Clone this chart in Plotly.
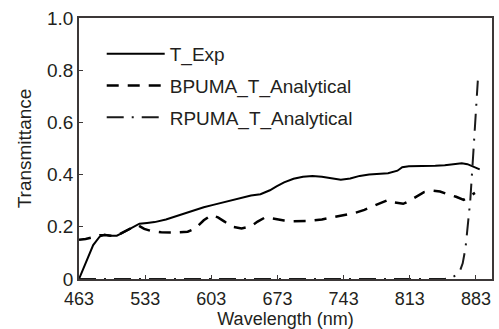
import plotly.graph_objects as go

texp_x = [463, 470, 478, 485, 490, 496, 503, 508, 513, 520, 527, 535, 543, 555, 565, 575, 585, 595,
          605, 615, 625, 635, 645, 655, 665, 672, 680, 690, 700, 710, 720, 730, 740, 750, 760, 770,
          780, 790, 800, 805, 812, 820, 830, 840, 850, 860, 868, 874, 880, 887]
texp_y = [0.0, 0.06, 0.13, 0.163, 0.17, 0.166, 0.166, 0.175, 0.185, 0.2, 0.212, 0.215, 0.218, 0.228,
          0.24, 0.252, 0.264, 0.275, 0.284, 0.293, 0.303, 0.312, 0.32, 0.325, 0.34, 0.355, 0.37, 0.384,
          0.392, 0.395, 0.392, 0.386, 0.38, 0.385, 0.395, 0.4, 0.403, 0.405, 0.415, 0.428, 0.432, 0.432,
          0.433, 0.434, 0.436, 0.44, 0.443, 0.44, 0.432, 0.42]

bpuma_x = [463, 470, 478, 485, 492, 500, 506, 512, 520, 526, 532, 540, 550, 565, 578, 586, 595, 603,
           610, 617, 625, 635, 645, 652, 660, 668, 680, 690, 705, 720, 735, 745, 755, 765, 775, 785,
           790, 797, 806, 812, 820, 828, 838, 845, 853, 862, 870, 876, 882]
bpuma_y = [0.15, 0.153, 0.16, 0.168, 0.168, 0.165, 0.172, 0.183, 0.198, 0.205, 0.192, 0.183, 0.179,
           0.178, 0.181, 0.193, 0.225, 0.245, 0.236, 0.22, 0.2, 0.194, 0.202, 0.22, 0.236, 0.232, 0.224,
           0.221, 0.222, 0.228, 0.238, 0.245, 0.253, 0.265, 0.28, 0.298, 0.303, 0.293, 0.288, 0.298,
           0.316, 0.333, 0.338, 0.335, 0.325, 0.315, 0.303, 0.318, 0.33]

rpuma_x = [463, 850, 856, 862, 866, 869, 872, 875, 877, 880, 883, 885]
rpuma_y = [0.0, 0.0, 0.003, 0.015, 0.03, 0.06, 0.12, 0.22, 0.3, 0.47, 0.64, 0.76]

x_ticks = [463, 533, 603, 673, 743, 813, 883]
y_ticks = [0, 0.2, 0.4, 0.6, 0.8, 1.0]
y_tick_text = ["0", "0.2", "0.4", "0.6", "0.8", "1.0"]

FONT = "Liberation Sans, Arial, sans-serif"
AX = "#3c3838"
FS = 19
FT = 19

fig = go.Figure()
fig.add_trace(go.Scatter(x=texp_x, y=texp_y, mode="lines", name="T_Exp",
                         line=dict(color="#000000", width=2), legendgroup="a"))
fig.add_trace(go.Scatter(x=bpuma_x, y=bpuma_y, mode="lines", name="BPUMA_T_Analytical",
                         line=dict(color="#000000", width=2.5, dash="12px,9px"), legendgroup="b"))
fig.add_trace(go.Scatter(x=rpuma_x, y=rpuma_y, mode="lines", name="RPUMA_T_Analytical",
                         line=dict(color="#1a1a1a", width=2, dash="17px,8px,2px,8px"), legendgroup="c"))

fig.update_layout(
    width=499, height=329,
    margin=dict(l=79, r=5, t=18, b=50),
    paper_bgcolor="white", plot_bgcolor="white",
    font=dict(family=FONT, size=FS, color="#231f20"),
    showlegend=True,
    legend=dict(x=0.055, y=0.935, xanchor="left", yanchor="top",
                bgcolor="rgba(0,0,0,0)", borderwidth=0,
                font=dict(family=FONT, size=FS, color="#231f20"),
                traceorder="grouped", tracegroupgap=4, itemwidth=58),
    xaxis=dict(range=[463, 900], tickmode="array", tickvals=x_ticks, automargin=False,
               ticks="inside", ticklen=4, tickcolor=AX, showline=True, linecolor=AX,
               linewidth=1.5, mirror=True, showgrid=False, zeroline=False,
               tickfont=dict(size=18), ticklabelstandoff=3,
               title=dict(text="Wavelength (nm)", font=dict(size=18), standoff=3)),
    yaxis=dict(range=[0, 1.0], tickmode="array", tickvals=y_ticks, ticktext=y_tick_text,
               ticks="inside", ticklen=4, tickcolor=AX, showline=True, linecolor=AX,
               linewidth=1.5, mirror=True, showgrid=False, zeroline=False,
               tickfont=dict(size=FS),
               title=dict(text="Transmittance", font=dict(size=FT), standoff=10)),
)

fig.write_html("out.html")
